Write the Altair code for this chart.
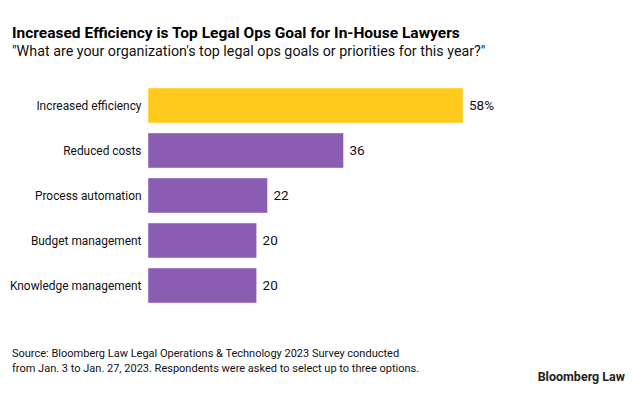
import altair as alt
import pandas as pd

categories = ["Increased efficiency", "Reduced costs", "Process automation",
              "Budget management", "Knowledge management"]
values = [58, 36, 22, 20, 20]
value_labels = ["58%", "36", "22", "20", "20"]
highlight = ["yes", "no", "no", "no", "no"]

df = pd.DataFrame({"category": categories, "value": values,
                   "label": value_labels, "hl": highlight})

FONT = "Roboto"

y_enc = alt.Y("category:N", sort=categories, title=None,
              scale=alt.Scale(paddingInner=0.222, paddingOuter=0.111),
              axis=alt.Axis(domain=False, ticks=False, labelPadding=7,
                            labelFontSize=11.9, labelColor="#111111",
                            labelFont=FONT, grid=False, labelLimit=200))
x_enc = alt.X("value:Q", scale=alt.Scale(domain=[0, 58], nice=False),
              axis=None)

base = alt.Chart(df)

bars = base.mark_bar(stroke="#ffffff", strokeOpacity=0.4, strokeWidth=1).encode(
    y=y_enc, x=x_enc,
    color=alt.Color("hl:N", scale=alt.Scale(domain=["yes", "no"],
                                            range=["#FFCA1C", "#8A5DB3"]),
                    legend=None),
)

text = base.mark_text(align="left", baseline="middle", dx=6, fontSize=13.5,
                      font=FONT, color="#111111").encode(
    y=alt.Y("category:N", sort=categories), x="value:Q", text="label:N")

footer_df = pd.DataFrame({"t": ["x"]})
source = alt.Chart(footer_df).mark_text(
    align="left", baseline="alphabetic", fontSize=11, font=FONT,
    color="#111111", lineHeight=15).encode(
    x=alt.value(-136), y=alt.value(274),
    text=alt.value(["Source: Bloomberg Law Legal Operations & Technology 2023 Survey conducted",
                    "from Jan. 3 to Jan. 27, 2023. Respondents were asked to select up to three options."]))

logo = alt.Chart(footer_df).mark_text(
    align="right", baseline="alphabetic", fontSize=12.5, font=FONT,
    fontWeight="bold", color="#222222").encode(
    x=alt.value(477), y=alt.value(298), text=alt.value("Bloomberg Law"))

chart = alt.layer(bars, text, source, logo).properties(
    width=315, height=225,
    autosize=alt.AutoSizeParams(type="none"),
    padding={"left": 140, "top": 75, "right": 162, "bottom": 78},
    background="#ffffff",
    title=alt.TitleParams(
        text="Increased Efficiency is Top Legal Ops Goal for In-House Lawyers",
        subtitle="\"What are your organization's top legal ops goals or priorities for this year?\"",
        anchor="start", frame="group", dx=-136, offset=24,
        font=FONT, fontSize=15.5, fontWeight="bold", color="#000000",
        subtitleFont=FONT, subtitleFontSize=14.3, subtitleColor="#111111",
        subtitlePadding=3),
).configure_view(stroke=None, strokeWidth=0)

chart.save("out.html", embed_options={"renderer": "svg", "actions": False})
